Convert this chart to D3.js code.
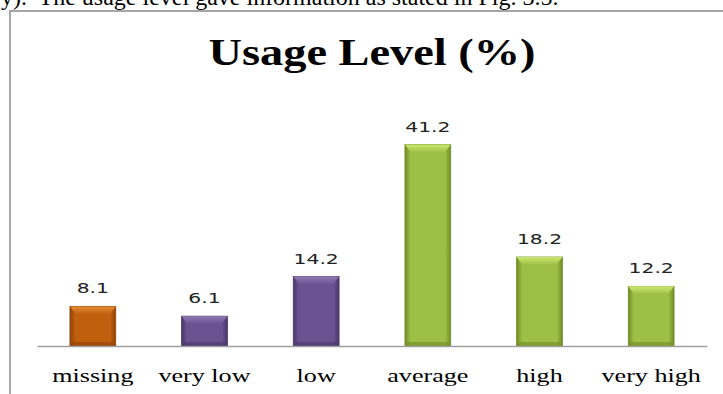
<!DOCTYPE html>
<html><head><meta charset="utf-8">
<script src="https://cdn.jsdelivr.net/npm/d3@7"></script>
<style>html,body{margin:0;padding:0;background:#fff;overflow:hidden}</style>
</head><body>
<svg id="c" width="723" height="394"></svg>
<script>
const categories = ["missing", "very low", "low", "average", "high", "very high"];
const values = [8.1, 6.1, 14.2, 41.2, 18.2, 12.2];
const colorGroups = ["orange", "purple", "purple", "green", "green", "green"];
const title = "Usage Level (%)";
const caption = "y).  The usage level gave information as stated in Fig. 3.5.";

const palette = {
  orange: {edge: "#8e4306", mid: "#c0600f", top: "#e88a35"},
  purple: {edge: "#4a3669", mid: "#6a5190", top: "#917ab3"},
  green:  {edge: "#6f8d27", mid: "#9cbf45", top: "#cbe86f"}
};

const svg = d3.select("#c");
const defs = svg.append("defs");
Object.entries(palette).forEach(([k, p]) => {
  const g = defs.append("linearGradient").attr("id", "g-" + k).attr("x1", 0).attr("x2", 1).attr("y1", 0).attr("y2", 0);
  g.append("stop").attr("offset", "0%").attr("stop-color", p.edge);
  g.append("stop").attr("offset", "12%").attr("stop-color", p.mid);
  g.append("stop").attr("offset", "88%").attr("stop-color", p.mid);
  g.append("stop").attr("offset", "100%").attr("stop-color", p.edge);
  const t = defs.append("linearGradient").attr("id", "t-" + k).attr("x1", 0).attr("x2", 0).attr("y1", 0).attr("y2", 1);
  t.append("stop").attr("offset", "0%").attr("stop-color", p.top);
  t.append("stop").attr("offset", "100%").attr("stop-color", p.mid);
});

// caption clipped at top (as in the reference)
svg.append("text").attr("x", 1).attr("y", 5)
  .style("white-space", "pre")
  .attr("font-family", "Liberation Serif, Times New Roman, serif").attr("font-size", 24)
  .attr("fill", "#000").text(caption);

// frame
svg.append("path").attr("d", "M10,394 V11 H723").attr("fill", "none").attr("stroke", "#a6a6a6").attr("stroke-width", 2);

const x = d3.scaleBand().domain(categories).range([37, 707]).paddingInner(0.59).paddingOuter(0.295);
const y = d3.scaleLinear().domain([0, 45]).range([346, 126]);

// title
svg.append("text").attr("transform", `translate(372,65) scale(1.22,1)`)
  .attr("text-anchor", "middle")
  .attr("font-family", "Liberation Serif, Times New Roman, serif").attr("font-weight", "bold")
  .attr("font-size", 38).attr("fill", "#000").text(title);

const data = categories.map((c, i) => ({c, v: values[i], g: colorGroups[i]}));

const bars = svg.append("g").selectAll("g").data(data).join("g");
bars.append("rect")
  .attr("x", d => x(d.c)).attr("y", d => y(d.v))
  .attr("width", x.bandwidth()).attr("height", d => y(0) - y(d.v))
  .attr("fill", d => `url(#g-${d.g})`)
  .attr("stroke", d => palette[d.g].edge).attr("stroke-width", 0.8);
// top bevel
bars.append("path")
  .attr("d", d => {
    const x0 = x(d.c), x1 = x0 + x.bandwidth(), t = y(d.v), b = 8;
    return `M${x0},${t} H${x1} L${x1 - 6},${t + b} H${x0 + 6} Z`;
  })
  .attr("fill", d => `url(#t-${d.g})`);
// bottom shade
bars.append("path")
  .attr("d", d => {
    const x0 = x(d.c), x1 = x0 + x.bandwidth(), b0 = y(0), b = 4;
    return `M${x0},${b0} H${x1} L${x1 - 3},${b0 - b} H${x0 + 3} Z`;
  })
  .attr("fill", d => palette[d.g].edge).attr("opacity", 0.6);

// value labels
svg.append("g").selectAll("text").data(data).join("text")
  .attr("transform", d => `translate(${x(d.c) + x.bandwidth() / 2},${y(d.v) - 13}) scale(1.45,1)`)
  .attr("text-anchor", "middle")
  .attr("font-family", "DejaVu Sans, Verdana, sans-serif").attr("font-size", 14)
  .attr("fill", "#222").text(d => d.v.toFixed(1));

// axis
const axis = svg.append("g").attr("transform", `translate(0,${y(0)})`)
  .call(d3.axisBottom(x).tickSize(0).tickSizeOuter(0).tickPadding(0));
axis.select(".domain").attr("stroke", "#a0a0a0").attr("stroke-width", 1.5);
axis.selectAll(".tick text").remove();
axis.selectAll(".tick").append("text")
  .attr("transform", "translate(0,36) scale(1.45,1)")
  .attr("text-anchor", "middle")
  .attr("font-family", "Liberation Serif, Times New Roman, serif").attr("font-size", 18)
  .attr("fill", "#000").text(d => d);
</script>
</body></html>
